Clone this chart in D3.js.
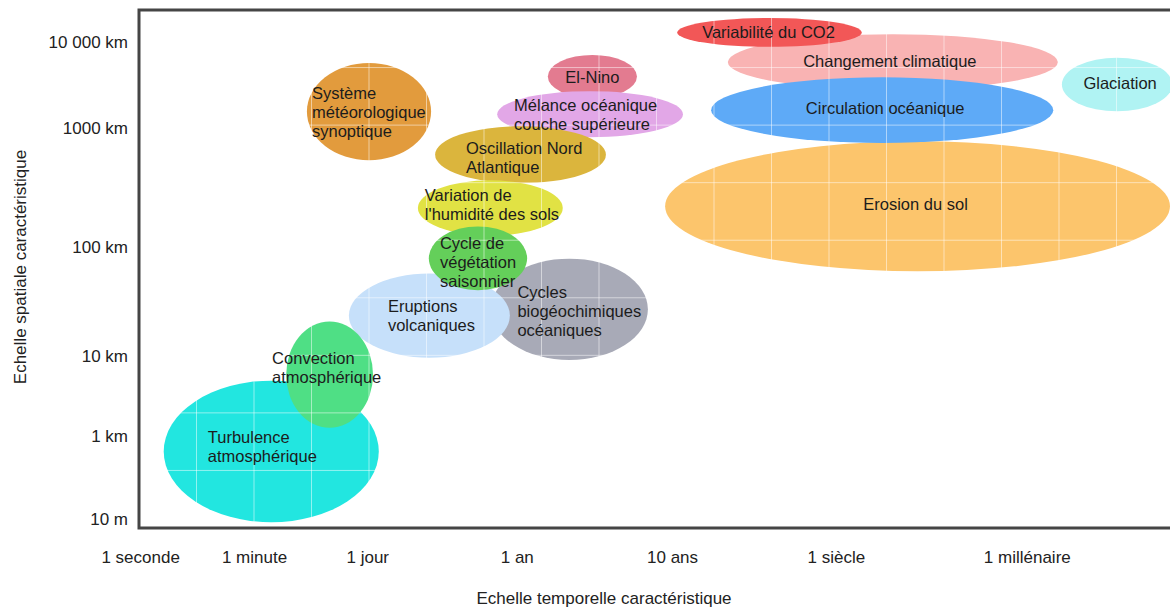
<!DOCTYPE html>
<html>
<head>
<meta charset="utf-8">
<script src="https://cdn.jsdelivr.net/npm/d3@7"></script>
<style>
  html, body { margin: 0; padding: 0; background: #fff; }
  svg { display: block; }
  text { font-family: "Liberation Sans", Arial, sans-serif; }
</style>
</head>
<body>
<svg id="chart" width="1170" height="610"></svg>
<script>
// ---------- DATA (schematic chart: positions in grid units) ----------
const xTickLabels = ["1 seconde", "1 minute", "1 jour", "1 an", "10 ans", "1 siècle", "1 millénaire"];
const xTickValues = [0.02, 2.0, 3.97, 6.57, 9.27, 12.12, 15.44];

const yTickLabels = ["10 m", "1 km", "10 km", "100 km", "1000 km", "10 000 km"];
const yTickValues = [0.16, 1.6, 2.98, 4.88, 6.95, 8.44];

const phenomena = [
  "Erosion du sol",
  "Changement climatique",
  "Variabilité du CO2",
  "Circulation océanique",
  "Glaciation",
  "Système météorologique synoptique",
  "El-Nino",
  "Mélance océanique couche supérieure",
  "Oscillation Nord Atlantique",
  "Variation de l'humidité des sols",
  "Cycles biogéochimiques océaniques",
  "Eruptions volcaniques",
  "Cycle de végétation saisonnier",
  "Turbulence atmosphérique",
  "Convection atmosphérique"
];
// time extent (start, end) and space extent (low, high), in grid units
const timeStart  = [9.15, 10.24, 9.36, 9.95, 16.05, 2.92, 7.11, 6.23, 5.15, 4.85, 6.12, 3.65, 5.04, 0.43, 2.56];
const timeEnd    = [17.93, 15.98, 12.57, 15.90, 17.97, 5.08, 8.66, 9.46, 8.12, 7.37, 8.85, 6.45, 6.75, 4.17, 4.07];
const spaceLow   = [4.46, 7.61, 8.36, 6.69, 7.24, 6.39, 7.47, 6.79, 5.99, 5.08, 2.92, 2.96, 4.13, 0.10, 1.74];
const spaceHigh  = [6.72, 8.58, 8.86, 7.83, 8.17, 8.08, 8.22, 7.59, 6.98, 6.04, 4.68, 4.42, 5.24, 2.56, 3.59];

const labelLines = [
  ["Erosion du sol"],
  ["Changement climatique"],
  ["Variabilité du CO2"],
  ["Circulation océanique"],
  ["Glaciation"],
  ["Système", "météorologique", "synoptique"],
  ["El-Nino"],
  ["Mélance océanique", "couche supérieure"],
  ["Oscillation Nord", "Atlantique"],
  ["Variation de", "l'humidité des sols"],
  ["Cycles", "biogéochimiques", "océaniques"],
  ["Eruptions", "volcaniques"],
  ["Cycle de", "végétation", "saisonnier"],
  ["Turbulence", "atmosphérique"],
  ["Convection", "atmosphérique"]
];

// ---------- STYLE / LAYOUT ----------
const colors = ["#fcc56c", "#f9b3b3", "#f25757", "#5eaaf7", "#b0f3f3", "#e29b3d", "#e37b90",
                "#e2a7e7", "#dbb53d", "#e1e244", "#a8aab7", "#c6e0fa", "#64cf5a", "#22e6e0", "#4fdf85"];
// label placement relative to ellipse centre (px)
const labelLayout = [
  {anchor: "middle", dx: -2, dy: -2},
  {anchor: "middle", dx: -3, dy: -1},
  {anchor: "middle", dx: -1, dy: 0},
  {anchor: "middle", dx: 3, dy: -2},
  {anchor: "middle", dx: 3, dy: -2},
  {anchor: "start", dx: -57, dy: 0},
  {anchor: "middle", dx: 0, dy: 1},
  {anchor: "start", dx: -76, dy: 0},
  {anchor: "start", dx: -54.5, dy: 3},
  {anchor: "start", dx: -65.5, dy: -3},
  {anchor: "start", dx: -52, dy: 1.5},
  {anchor: "start", dx: -41.5, dy: 0},
  {anchor: "start", dx: -38, dy: 4},
  {anchor: "start", dx: -63.5, dy: -5},
  {anchor: "start", dx: -57.5, dy: -7.5}
];

(function () {
const W = 1170;
const pLeft = 139, pTop = 10, pBottom = 528;
const cell = 57.5;
const FS = 16.5;
const x = d3.scaleLinear().domain([0, 18]).range([pLeft, pLeft + 18 * cell]);
const y = d3.scaleLinear().domain([0, 9]).range([pBottom, pTop]);

const svg = d3.select("#chart");

const items = phenomena.map((name, i) => ({
  name, i,
  cx: (x(timeStart[i]) + x(timeEnd[i])) / 2,
  cy: (y(spaceLow[i]) + y(spaceHigh[i])) / 2,
  rx: Math.abs(x(timeEnd[i]) - x(timeStart[i])) / 2,
  ry: Math.abs(y(spaceLow[i]) - y(spaceHigh[i])) / 2
}));

svg.append("defs").append("clipPath").attr("id", "plotclip")
  .append("rect").attr("x", pLeft).attr("y", pTop).attr("width", W - pLeft).attr("height", pBottom - pTop);

const plot = svg.append("g").attr("clip-path", "url(#plotclip)");
plot.selectAll("ellipse").data(items).join("ellipse")
  .attr("cx", d => d.cx).attr("cy", d => d.cy)
  .attr("rx", d => d.rx).attr("ry", d => d.ry)
  .attr("fill", d => colors[d.i]);

// white grid on top of ellipses
const gx = d3.range(1, 19), gy = d3.range(1, 9);
plot.selectAll("line.gx").data(gx).join("line").attr("class", "gx")
  .attr("x1", d => x(d)).attr("x2", d => x(d)).attr("y1", pTop).attr("y2", pBottom)
  .attr("stroke", "#fff").attr("stroke-opacity", 0.5).attr("stroke-width", 1);
plot.selectAll("line.gy").data(gy).join("line").attr("class", "gy")
  .attr("x1", pLeft).attr("x2", W).attr("y1", d => y(d)).attr("y2", d => y(d))
  .attr("stroke", "#fff").attr("stroke-opacity", 0.5).attr("stroke-width", 1);

// labels
const lh = 19;
items.forEach(d => {
  const lines = labelLines[d.i];
  const L = labelLayout[d.i];
  const t = svg.append("text")
    .attr("text-anchor", L.anchor)
    .attr("font-size", FS)
    .attr("fill", "#1c1c1c");
  lines.forEach((s, k) => {
    t.append("tspan")
      .attr("x", d.cx + L.dx)
      .attr("y", d.cy + L.dy + (k - (lines.length - 1) / 2) * lh)
      .attr("dominant-baseline", "central")
      .text(s);
  });
});

// frame
svg.append("path")
  .attr("d", `M${W},${pTop} L${pLeft},${pTop} L${pLeft},${pBottom} L${W},${pBottom}`)
  .attr("stroke", "#454545").attr("stroke-width", 3).attr("fill", "none");

// axes
const xAxis = d3.axisBottom(x).tickValues(xTickValues)
  .tickFormat((d, i) => xTickLabels[i]).tickSize(0).tickPadding(0);
const gxA = svg.append("g").attr("transform", "translate(0,557)").call(xAxis);
gxA.select(".domain").remove();
gxA.selectAll("text").attr("font-size", 17).attr("fill", "#222")
  .attr("dy", null).attr("dominant-baseline", "central")
  .style("font-family", "'Liberation Sans', Arial, sans-serif");

const yAxis = d3.axisLeft(y).tickValues(yTickValues)
  .tickFormat((d, i) => yTickLabels[i]).tickSize(0).tickPadding(0);
const gyA = svg.append("g").attr("transform", "translate(128,0)").call(yAxis);
gyA.select(".domain").remove();
gyA.selectAll("text").attr("font-size", 17).attr("fill", "#222")
  .attr("dy", null).attr("dominant-baseline", "central")
  .style("font-family", "'Liberation Sans', Arial, sans-serif");

// axis titles
svg.append("text").attr("x", 604).attr("y", 598)
  .attr("text-anchor", "middle").attr("dominant-baseline", "central")
  .attr("font-size", 17).attr("fill", "#222")
  .text("Echelle temporelle caractéristique");
svg.append("text").attr("transform", "translate(20,267) rotate(-90)")
  .attr("text-anchor", "middle").attr("dominant-baseline", "central")
  .attr("font-size", 17).attr("fill", "#222")
  .text("Echelle spatiale caractéristique");
})();
</script>
</body>
</html>
